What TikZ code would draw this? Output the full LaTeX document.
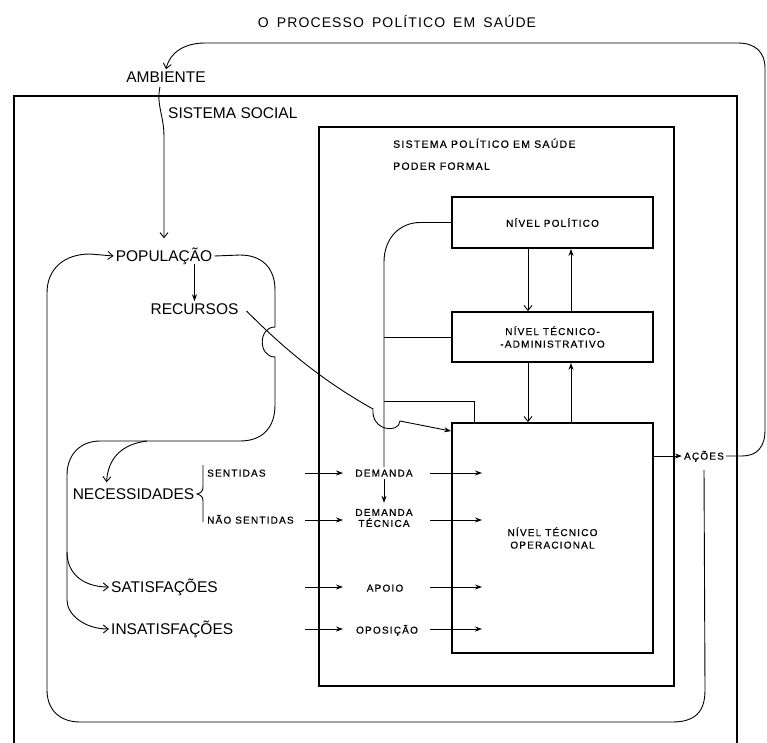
\documentclass[tikz,border=0pt]{standalone}
\usepackage{fontspec}
\setmainfont{Liberation Sans}
\newfontfamily\smallf[LetterSpace=12,FakeBold=0.6]{Liberation Sans}
\newfontfamily\titlef[LetterSpace=8]{Liberation Sans}
\usetikzlibrary{arrows.meta,calc}
\tikzset{
  thinl/.style={line width=0.9pt},
  boxl/.style={line width=1.8pt},
  lvl/.style={draw, line width=1.8pt, minimum width=201pt, inner sep=0pt, align=center,
    font=\smallf\fontsize{10}{12.5}\selectfont},
  big/.style={inner sep=2pt, text height=11.1pt, text depth=0pt, font=\fontsize{15.5}{18}\selectfont},
  sm/.style={inner sep=2pt, text height=7.2pt, text depth=0pt, align=center,
    font=\smallf\fontsize{10}{11}\selectfont},
  smtwo/.style={inner sep=2pt, align=center, font=\smallf\fontsize{10}{11}\selectfont},
  head/.style={inner sep=2pt, text height=7.5pt, text depth=0pt,
    font=\smallf\fontsize{10.5}{12}\selectfont},
  barb/.style={-{Straight Barb[length=5pt,width=8pt,line width=0.9pt]}},
  tri/.style={-{Stealth[length=7pt,width=5pt]}},
}
\begin{document}
\begin{tikzpicture}[x=1pt,y=-1pt]
\useasboundingbox (0,0) rectangle (767,742);
\clip (0,0) rectangle (767,742);
\fill[white] (0,0) rectangle (767,742);

% title and outer labels
\node[inner sep=2pt, text height=10pt, text depth=0pt, font=\titlef\fontsize{14}{16}\selectfont] (title) at (397,22) {O\hspace{3pt} PROCESSO\hspace{3pt} POLÍTICO\hspace{3pt} EM\hspace{3pt} SAÚDE};
\node[big] (amb) at (166,77) {AMBIENTE};
\node[big, anchor=west] (soc) at (166,113) {SISTEMA SOCIAL};

% outer system (social)
\draw[boxl] (14,750) -- (14,96) -- (737,96) -- (737,750);
% political system
\draw[boxl] (319,127) rectangle (674,686);
\node[head, anchor=west] (sps) at (391,144) {SISTEMA POLÍTICO EM SAÚDE};
\node[head, anchor=west] (pf) at (391,166) {PODER FORMAL};

% level boxes
\node[lvl, minimum height=51pt] (np) at (552.5,222.5) {NÍVEL POLÍTICO};
\node[lvl, minimum height=50pt] (nta) at (552.5,337) {NÍVEL TÉCNICO-\\-ADMINISTRATIVO};
\node[lvl, minimum height=230pt] (nto) at (552.5,538) {NÍVEL TÉCNICO\\OPERACIONAL};

% social labels
\node[big] (pop) at (164,256) {POPULAÇÃO};
\node[big] (rec) at (194.5,309) {RECURSOS};
\node[big] (nec) at (133.5,494) {NECESSIDADES};
\node[big, anchor=west] (sat) at (109,587) {SATISFAÇÕES};
\node[big, anchor=west] (insat) at (109,629) {INSATISFAÇÕES};
\node[sm, anchor=west] (sent) at (205,473) {SENTIDAS};
\node[sm, anchor=west] (nsent) at (205,520) {NÃO SENTIDAS};

% inputs
\node[sm] (dem) at (384,473) {DEMANDA};
\node[smtwo] (demt) at (384,518) {DEMANDA\\TÉCNICA};
\node[sm] (apoio) at (385,588) {APOIO};
\node[sm] (opos) at (387,630) {OPOSIÇÃO};
\node[sm] (aco) at (704,456) {AÇÕES};

% brace
\draw[thinl] (203,465) -- (203,487) .. controls (203,491) and (201,493) .. (197,494)
  .. controls (201,495) and (203,497) .. (203,501) -- (203,522);

% column coordinates for input arrows
\coordinate (c1) at (305,0);
\coordinate (c2) at (343,0);
\coordinate (c3) at (430,0);
\coordinate (c4) at (482,0);
\draw[thinl,tri] (c1 |- sent) -- (c2 |- sent);
\draw[thinl,tri] (c1 |- nsent) -- (c2 |- nsent);
\draw[thinl,tri] (c1 |- sat) -- (c2 |- sat);
\draw[thinl,tri] (c1 |- insat) -- (c2 |- insat);
\draw[thinl,tri] (c3 |- sent) -- (c4 |- sent);
\draw[thinl,tri] (c3 |- nsent) -- (c4 |- nsent);
\draw[thinl,tri] (c3 |- sat) -- (c4 |- sat);
\draw[thinl,tri] (c3 |- insat) -- (c4 |- insat);

% arrows between levels
\draw[thinl,barb] ([xshift=-24.5pt]np.south) -- ([xshift=-24.5pt]nta.north);
\draw[thinl,tri] ([xshift=18.5pt]nta.north) -- ([xshift=18.5pt]np.south);
\draw[thinl,barb] ([xshift=-24.5pt]nta.south) -- ([xshift=-24.5pt]nto.north);
\draw[thinl,tri] ([xshift=18.5pt]nto.north) -- ([xshift=18.5pt]nta.south);

% feedback line from political level to demand
\draw[thinl] (np.west) -- (420,222.5) .. controls (400,222.5) and (384,238) .. (384,262) -- (dem.north);
\draw[thinl,tri,shorten >=4pt] (dem.south) -- (demt.north);
\draw[thinl] (nta.west) -- (nta.west -| dem.north);
\coordinate (j1) at (384,401);
\draw[thinl] (j1) -| ($(nto.north west)+(23,0)$);

% resources to operational level
\draw[thinl,tri] ($(rec.east)+(6,2)$) .. controls (290,355) and (330,385) .. (373,409)
  .. controls (371,431) and (399,434) .. (400,421) -- ($(nto.north west)+(0,9)$);

% actions
\draw[thinl,tri] (nto.east |- aco.west) -- (aco.west);

% environment to population
\draw[thinl,barb] ($(amb.south)+(-6,2)$) .. controls (156,105) and (164,115) .. (164,137) -- ([yshift=10pt]pop.north);
\draw[thinl,tri] (rec.north |- pop.south) -- (rec.north);

% population loop (right)
\draw[thinl,barb] (pop.east) -- (240,255) .. controls (262,255) and (275,268) .. (275,290) -- (275,327)
  .. controls (258,327) and (258,357) .. (275,357) -- (275,405)
  .. controls (275,428) and (262,441) .. (240,441) -- (100,441)
  .. controls (80,441) and (67,455) .. (67,475) -- (67,600)
  .. controls (67,615) and (85,629) .. (insat.west);
\draw[thinl,barb] (147,441) .. controls (122,444) and (108,458) .. ($(nec.north west)+(36,-4)$);
\draw[thinl,barb] (67,552) .. controls (67,575) and (85,587) .. (sat.west);

% actions back to population (big loop)
\draw[thinl,barb] ([yshift=-8pt]aco.south) -- (705,690) .. controls (705,712) and (695,722) .. (672,722)
  -- (80,722) .. controls (60,722) and (47,710) .. (47,690) -- (47,293)
  .. controls (47,268) and (65,254) .. (90,254) -- (pop.west);

% actions to environment (top loop)
\draw[thinl,barb] (aco.east) -- (742,456) .. controls (757,456) and (765,447) .. (765,430) -- (765,68)
  .. controls (765,52) and (755,43) .. (738,43) -- (205,43) .. controls (185,43) and (170,52) .. (amb.north);
\end{tikzpicture}
\end{document}
